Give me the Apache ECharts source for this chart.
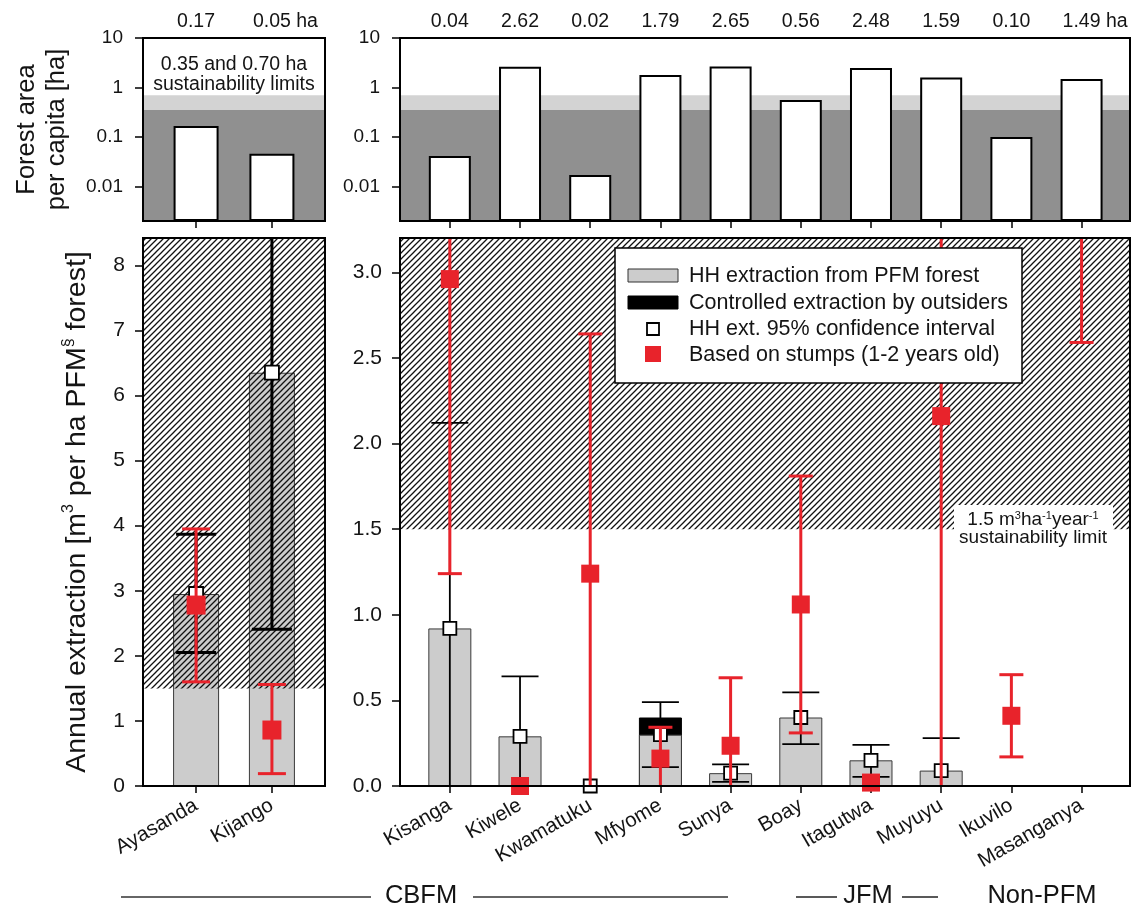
<!DOCTYPE html>
<html><head><meta charset="utf-8">
<script src="https://cdn.jsdelivr.net/npm/echarts@6/dist/echarts.min.js"></script>
<style>html,body{margin:0;padding:0;background:#fff}#c{width:1134px;height:914px}</style>
</head><body><div id="c"></div>
<script>
// ---------------- DATA ----------------
const leftSites = ['Ayasanda', 'Kijango'];
const rightSites = ['Kisanga', 'Kiwele', 'Kwamatuku', 'Mfyome', 'Sunya', 'Boay', 'Itagutwa', 'Muyuyu', 'Ikuvilo', 'Masanganya'];

// forest area per capita [ha]
const forestLeft = [0.167, 0.046];
const forestRight = [0.041, 2.62, 0.017, 1.79, 2.65, 0.56, 2.48, 1.59, 0.10, 1.49];
const forestLimits = [0.35, 0.70];
const forestTicks = [0.01, 0.1, 1, 10];

// annual extraction [m3 per ha PFM forest]; Infinity = extends beyond the axis
const hhLeft = [2.95, 6.35];
const hhLowLeft = [2.05, 2.41];
const hhHighLeft = [3.87, Infinity];
const stumpsLeft = [2.78, 0.86];
const stumpsLowLeft = [1.60, 0.19];
const stumpsHighLeft = [3.95, 1.56];

const hhRight = [0.92, 0.29, 0, 0.30, 0.075, 0.40, 0.15, 0.09, null, null];
const outsidersRight = [null, null, null, 0.10, null, null, null, null, null, null];
const hhLowRight = [0, 0, null, 0.11, 0.024, 0.245, 0.053, 0, null, null];
const hhHighRight = [2.12, 0.64, null, 0.49, 0.126, 0.547, 0.24, 0.28, null, null];
const stumpsRight = [2.96, 0, 1.24, 0.16, 0.235, 1.06, 0.02, 2.16, 0.41, null];
const stumpsLowRight = [1.24, null, 0, 0, 0, 0.31, null, 0, 0.17, 2.59];
const stumpsHighRight = [Infinity, null, 2.64, 0.343, 0.632, 1.81, null, Infinity, 0.65, Infinity];

const extractionLimit = 1.5;
const leftTicks = [0, 1, 2, 3, 4, 5, 6, 7, 8];
const rightTicks = [0, 0.5, 1, 1.5, 2, 2.5, 3];

const groups = ['CBFM', 'JFM', 'Non-PFM'];
const legendItems = ['HH extraction from PFM forest', 'Controlled extraction by outsiders', 'HH ext. 95% confidence interval', 'Based on stumps (1-2 years old)'];

// ---------------- STYLE ----------------
const FONT = 'Arial, "Liberation Sans", Helvetica, sans-serif';
const RED = '#e8232b';
const TXT = '#141414';
const L_MIN = -0.7, L_MAX = 1.7, R_MIN = -0.71, R_MAX = 9.69;
const TOP_MIN = 0.002, TOP_MAX = 10;
const BL_MAX = 8.42, BR_MAX = 3.2;

function hatchPattern() {
  const s = 6;
  const c = document.createElement('canvas');
  c.width = s; c.height = s;
  const g = c.getContext('2d');
  g.strokeStyle = '#111';
  g.lineWidth = 1.3;
  g.beginPath();
  g.moveTo(0, s); g.lineTo(s, 0);
  g.moveTo(-1, 1); g.lineTo(1, -1);
  g.moveTo(s - 1, s + 1); g.lineTo(s + 1, s - 1);
  g.stroke();
  return { image: c, repeat: 'repeat' };
}
const HATCH = hatchPattern();

const gridBase = { show: true, borderColor: '#000', borderWidth: 2, backgroundColor: 'transparent', containLabel: false, outerBoundsMode: 'none', z: 8 };
const grids = [
  Object.assign({ left: 143, top: 38, width: 182, height: 183 }, gridBase),
  Object.assign({ left: 400, top: 38, width: 730, height: 183 }, gridBase),
  Object.assign({ left: 143, top: 238, width: 182, height: 548 }, gridBase),
  Object.assign({ left: 400, top: 238, width: 730, height: 548 }, gridBase)
];

const idxL = leftSites.map((_, i) => i);
const idxR = rightSites.map((_, i) => i);

function xBottom(grid, min, max, idx, names) {
  return {
    type: 'value', gridIndex: grid, min, max, position: 'bottom', splitLine: { show: false },
    axisLine: { show: true, onZero: false, lineStyle: { color: '#000', width: 2 } },
    axisTick: { show: true, customValues: idx, length: 7, lineStyle: { color: '#000', width: 1.5 } },
    axisLabel: names ? {
      show: true, customValues: idx, formatter: v => names[Math.round(v)], rotate: 30,
      fontSize: 20.5, color: TXT, fontFamily: FONT, margin: 18
    } : { show: false }
  };
}
function xTopLabels(grid, min, max, idx, vals) {
  return {
    type: 'value', gridIndex: grid, min, max, position: 'top', splitLine: { show: false },
    axisLine: { show: false }, axisTick: { show: false },
    axisLabel: {
      show: true, customValues: idx, margin: 6, fontSize: 19.5, color: TXT, fontFamily: FONT,
      formatter: v => {
        const i = Math.round(v);
        const t = vals[i].toFixed(2);
        return i === vals.length - 1 ? '{p| }' + t + '{h| ha}' : t;
      },
      rich: {
        p: { width: 27, fontSize: 19.5, fontFamily: FONT },
        h: { width: 27, fontSize: 19.5, color: TXT, fontFamily: FONT, align: 'left' }
      }
    }
  };
}
function yLog(grid, name) {
  const o = {
    type: 'log', logBase: 10, gridIndex: grid, min: TOP_MIN, max: TOP_MAX, startValue: TOP_MIN,
    splitLine: { show: false },
    axisLine: { show: true, onZero: false, lineStyle: { color: '#000', width: 2 } },
    axisTick: { show: true, customValues: forestTicks, length: 8, lineStyle: { color: '#000', width: 1.5 } },
    axisLabel: {
      show: true, customValues: forestTicks, fontSize: 19, color: TXT, fontFamily: FONT, margin: 20,
      formatter: v => String(+(+v).toPrecision(6))
    }
  };
  if (name) Object.assign(o, {
    name, nameLocation: 'middle', nameRotate: 90, nameGap: 71,
    nameTextStyle: { fontSize: 25.5, fontFamily: FONT, color: TXT, lineHeight: 30 }
  });
  return o;
}
function yVal(grid, max, ticks, fmt, nameOpts) {
  const o = {
    type: 'value', gridIndex: grid, min: 0, max, splitLine: { show: false },
    axisLine: { show: true, onZero: false, lineStyle: { color: '#000', width: 2 } },
    axisTick: { show: true, customValues: ticks, length: 8, lineStyle: { color: '#000', width: 1.5 } },
    axisLabel: { show: true, customValues: ticks, fontSize: 21, color: TXT, fontFamily: FONT, margin: 18, formatter: fmt }
  };
  if (nameOpts) Object.assign(o, nameOpts);
  return o;
}

function pts(vals) {
  const d = [];
  vals.forEach((v, i) => { if (v != null) d.push([i, v]); });
  return d;
}
// total height (HH + outsiders) where outsiders extraction exists
function totals(base, add) {
  const d = [];
  add.forEach((v, i) => { if (v != null) d.push([i, (base[i] || 0) + v]); });
  return d;
}

function errSeries(xi, yi, lows, highs, ymax, color, lw, capW, z, extra) {
  const data = [];
  lows.forEach((lo, i) => {
    const hi = highs[i];
    if (lo == null || hi == null) return;
    data.push([i, lo, Math.min(hi, ymax), hi > ymax ? 0 : 1]);
  });
  return Object.assign({
    type: 'custom', xAxisIndex: xi, yAxisIndex: yi, z, clip: true, silent: true, data,
    encode: { x: 0, y: [1, 2] },
    renderItem(params, api) {
      const x = api.value(0), lo = api.value(1), hi = api.value(2), capHi = api.value(3);
      const a = api.coord([x, lo]), b = api.coord([x, hi]);
      const st = { stroke: color, lineWidth: lw };
      const ch = [{ type: 'line', shape: { x1: a[0], y1: a[1], x2: b[0], y2: b[1] }, style: st }];
      if (lo > 0) ch.push({ type: 'line', shape: { x1: a[0] - capW / 2, y1: a[1], x2: a[0] + capW / 2, y2: a[1] }, style: st });
      if (capHi) ch.push({ type: 'line', shape: { x1: b[0] - capW / 2, y1: b[1], x2: b[0] + capW / 2, y2: b[1] }, style: st });
      return { type: 'group', children: ch };
    }
  }, extra || {});
}

const bandArea = {
  silent: true, z: 1,
  data: [
    [{ yAxis: TOP_MIN, itemStyle: { color: '#909090' } }, { yAxis: forestLimits[0] }],
    [{ yAxis: forestLimits[0], itemStyle: { color: '#d3d3d3' } }, { yAxis: forestLimits[1] }]
  ]
};
function hatchArea(ymax) {
  return {
    silent: true, z: 3, itemStyle: { color: HATCH, borderWidth: 0 },
    data: [[{ yAxis: extractionLimit }, { yAxis: ymax }]]
  };
}

const whiteSq = { color: '#fff', borderColor: '#000', borderWidth: 1.8, opacity: 1 };
const redSq = { color: RED, opacity: 1 };

function txt(x, y, text, size, align, extra) {
  return Object.assign({
    type: 'text', x, y, z: 21, silent: true,
    style: { text, fontSize: size, fontFamily: FONT, fill: TXT, align: align || 'center', verticalAlign: 'middle' }
  }, extra || {});
}
function hline(x1, x2, y, color, w) {
  return { type: 'line', z: 20, silent: true, shape: { x1, y1: y, x2, y2: y }, style: { stroke: color, lineWidth: w } };
}

const option = {
  animation: false,
  backgroundColor: '#fff',
  grid: grids,
  xAxis: [
    xBottom(0, L_MIN, L_MAX, idxL, null),
    xTopLabels(0, L_MIN, L_MAX, idxL, forestLeft),
    xBottom(1, R_MIN, R_MAX, idxR, null),
    xTopLabels(1, R_MIN, R_MAX, idxR, forestRight),
    xBottom(2, L_MIN, L_MAX, idxL, leftSites),
    xBottom(3, R_MIN, R_MAX, idxR, rightSites)
  ],
  yAxis: [
    yLog(0, 'Forest area\nper capita [ha]'),
    yLog(1, null),
    yVal(2, BL_MAX, leftTicks, v => String(v), {
      name: '{a|Annual extraction [m}{s|3}{a| per ha PFM}{s|§}{a| forest]}',
      nameLocation: 'middle', nameRotate: 90, nameGap: 50,
      nameTextStyle: {
        rich: {
          a: { fontSize: 28.5, fontFamily: FONT, color: TXT, lineHeight: 32 },
          s: { fontSize: 16, fontFamily: FONT, color: TXT, verticalAlign: 'top', lineHeight: 29 }
        }
      }
    }),
    yVal(3, BR_MAX, rightTicks, v => (+v).toFixed(1), null)
  ],
  series: [
    // top panels: forest area per capita
    {
      type: 'bar', xAxisIndex: 0, yAxisIndex: 0, data: pts(forestLeft), barWidth: 45, z: 2, silent: true,
      itemStyle: { color: '#fff', borderColor: '#000', borderWidth: 2 }, markArea: bandArea
    },
    {
      type: 'bar', xAxisIndex: 2, yAxisIndex: 1, data: pts(forestRight), barWidth: 42, z: 2, silent: true,
      itemStyle: { color: '#fff', borderColor: '#000', borderWidth: 2 }, markArea: bandArea
    },
    // bottom-left
    {
      type: 'bar', xAxisIndex: 4, yAxisIndex: 2, data: pts(hhLeft), barWidth: 46, z: 2, silent: true,
      itemStyle: { color: '#cccccc', borderColor: '#3a3a3a', borderWidth: 1 }
    },
    errSeries(4, 2, hhLowLeft, hhHighLeft, BL_MAX, '#000', 3, 40, 4, { markArea: hatchArea(BL_MAX) }),
    {
      type: 'scatter', xAxisIndex: 4, yAxisIndex: 2, data: pts(hhLeft), symbol: 'rect', symbolSize: 14, z: 5, silent: true,
      itemStyle: whiteSq
    },
    errSeries(4, 2, stumpsLowLeft, stumpsHighLeft, BL_MAX, RED, 3, 28, 6),
    {
      type: 'scatter', xAxisIndex: 4, yAxisIndex: 2, data: pts(stumpsLeft), symbol: 'rect', symbolSize: 19, z: 7, silent: true,
      itemStyle: redSq
    },
    // bottom-right: outsiders drawn as the total (HH + outsiders), HH bar over it
    {
      type: 'bar', xAxisIndex: 5, yAxisIndex: 3, data: totals(hhRight, outsidersRight), barWidth: 43, barGap: '-100%', z: 2, silent: true,
      itemStyle: { color: '#000', borderColor: '#000', borderWidth: 1 }
    },
    {
      type: 'bar', xAxisIndex: 5, yAxisIndex: 3, data: pts(hhRight), barWidth: 43, barGap: '-100%', z: 2, silent: true,
      itemStyle: { color: '#cccccc', borderColor: '#3a3a3a', borderWidth: 1 }
    },
    errSeries(5, 3, hhLowRight, hhHighRight, BR_MAX, '#000', 1.8, 37, 4, { markArea: hatchArea(BR_MAX) }),
    {
      type: 'scatter', xAxisIndex: 5, yAxisIndex: 3, data: pts(hhRight), symbol: 'rect', symbolSize: 13, z: 5, silent: true,
      itemStyle: whiteSq
    },
    errSeries(5, 3, stumpsLowRight, stumpsHighRight, BR_MAX, RED, 3, 24, 6),
    {
      type: 'scatter', xAxisIndex: 5, yAxisIndex: 3, data: pts(stumpsRight), symbol: 'rect', symbolSize: 18, z: 7, silent: true,
      itemStyle: redSq
    }
  ],
  graphic: [
    // top-left note
    txt(234, 64.5, '0.35 and 0.70 ha', 19.5),
    txt(234, 85, 'sustainability limits', 19.5),
    // limit note
    { type: 'rect', z: 20, silent: true, shape: { x: 954, y: 505, width: 159, height: 43 }, style: { fill: '#fff', lineWidth: 0 } },
    {
      type: 'text', x: 1033, y: 520, z: 21, silent: true,
      style: {
        text: '{a|1.5 m}{s|3}{a|ha}{s|-1}{a|year}{s|-1}', align: 'center', verticalAlign: 'middle',
        rich: {
          a: { fontSize: 19, fontFamily: FONT, fill: TXT, lineHeight: 20 },
          s: { fontSize: 11, fontFamily: FONT, fill: TXT, lineHeight: 12, verticalAlign: 'top' }
        }
      }
    },
    txt(1033, 538, 'sustainability limit', 19),
    // legend
    { type: 'rect', z: 20, silent: true, shape: { x: 615, y: 248, width: 407, height: 135 }, style: { fill: '#fff', stroke: '#000', lineWidth: 1.5 } },
    { type: 'rect', z: 21, silent: true, shape: { x: 628, y: 269, width: 50, height: 13 }, style: { fill: '#cccccc', stroke: '#333', lineWidth: 1 } },
    { type: 'rect', z: 21, silent: true, shape: { x: 628, y: 296, width: 50, height: 13 }, style: { fill: '#000', stroke: '#000', lineWidth: 1 } },
    { type: 'rect', z: 21, silent: true, shape: { x: 647, y: 323, width: 12, height: 12 }, style: { fill: '#fff', stroke: '#000', lineWidth: 1.8 } },
    { type: 'rect', z: 21, silent: true, shape: { x: 645, y: 346, width: 16, height: 16 }, style: { fill: RED } },
    txt(689, 276, legendItems[0], 21.5, 'left'),
    txt(689, 303, legendItems[1], 21.5, 'left'),
    txt(689, 329.5, legendItems[2], 21.5, 'left'),
    txt(689, 355, legendItems[3], 21.5, 'left'),
    // group labels
    hline(121, 371, 897, '#666', 2),
    txt(421, 896, groups[0], 25.5),
    hline(473, 728, 897, '#666', 2),
    hline(796, 837, 897, '#222', 1.5),
    txt(868, 896, groups[1], 25.5),
    hline(902, 938, 897, '#222', 1.5),
    txt(1042, 896, groups[2], 25.5)
  ]
};

const chart = echarts.init(document.getElementById('c'), null, { renderer: 'canvas' });
chart.setOption(option);
</script>
</body></html>
